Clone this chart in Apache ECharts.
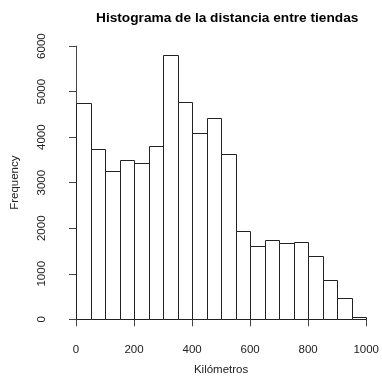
<!DOCTYPE html>
<html>
<head>
<meta charset="utf-8">
<script src="https://cdn.jsdelivr.net/npm/echarts@6/dist/echarts.min.js"></script>
<style>
  html, body { margin: 0; padding: 0; background: #fff; }
  #chart { width: 382px; height: 381px; }
</style>
</head>
<body>
<div id="chart"></div>
<script>
// Histogram bin edges (km) and the number of store-to-store distances in each bin
const breaks = [0, 50, 100, 150, 200, 250, 300, 350, 400, 450, 500,
                550, 600, 650, 700, 750, 800, 850, 900, 950, 1000];
const counts = [4740, 3740, 3250, 3490, 3440, 3800, 5800, 4780, 4100, 4410,
                3620, 1950, 1620, 1750, 1670, 1690, 1390, 870, 470, 45];
const xTicks = [0, 200, 400, 600, 800, 1000];
const yTicks = [0, 1000, 2000, 3000, 4000, 5000, 6000];

const bins = counts.map((c, i) => [breaks[i], breaks[i + 1], c]);

const font = 'Liberation Sans, Arial, sans-serif';
const ink = '#222';
const plain = v => String(v);

const chart = echarts.init(document.getElementById('chart'), null, { renderer: 'canvas' });
chart.setOption({
  animation: false,
  backgroundColor: '#fff',
  title: {
    text: 'Histograma de la distancia entre tiendas',
    left: 91,
    top: 6,
    textStyle: { fontFamily: font, fontSize: 13.7, fontWeight: 'bold', color: '#000' }
  },
  grid: { left: 76, right: 13.7, top: 46.1, bottom: 57.7 },
  xAxis: {
    type: 'value',
    min: xTicks[0],
    max: xTicks[xTicks.length - 1],
    interval: 200,
    offset: 11.7,
    name: 'Kilómetros',
    nameLocation: 'middle',
    nameGap: 33,
    nameTextStyle: { fontFamily: font, fontSize: 11.5, color: ink },
    axisLine: { lineStyle: { color: '#444', width: 1 } },
    axisTick: { length: 7, lineStyle: { color: '#444' } },
    axisLabel: { margin: 13, fontFamily: font, fontSize: 11.5, color: ink, formatter: plain },
    splitLine: { show: false }
  },
  yAxis: {
    type: 'value',
    min: yTicks[0],
    max: yTicks[yTicks.length - 1],
    interval: 1000,
    offset: 12.7,
    name: 'Frequency',
    nameLocation: 'middle',
    nameGap: 42,
    nameTextStyle: { fontFamily: font, fontSize: 11.5, color: ink },
    axisLine: { show: true, lineStyle: { color: '#444', width: 1 } },
    axisTick: { show: true, length: 7, lineStyle: { color: '#444' } },
    axisLabel: { rotate: 90, margin: 15, fontFamily: font, fontSize: 11.5, color: ink, formatter: plain },
    splitLine: { show: false }
  },
  series: [{
    type: 'custom',
    data: bins,
    encode: { x: [0, 1], y: 2 },
    renderItem: function (params, api) {
      const p0 = api.coord([api.value(0), api.value(2)]);
      const p1 = api.coord([api.value(1), 0]);
      return {
        type: 'rect',
        shape: {
          x: Math.round(p0[0]) + 0.5,
          y: Math.round(p0[1]) + 0.5,
          width: Math.round(p1[0]) - Math.round(p0[0]),
          height: Math.round(p1[1]) - Math.round(p0[1])
        },
        style: { fill: '#fff', stroke: '#222', lineWidth: 1 }
      };
    }
  }]
});
</script>
</body>
</html>
